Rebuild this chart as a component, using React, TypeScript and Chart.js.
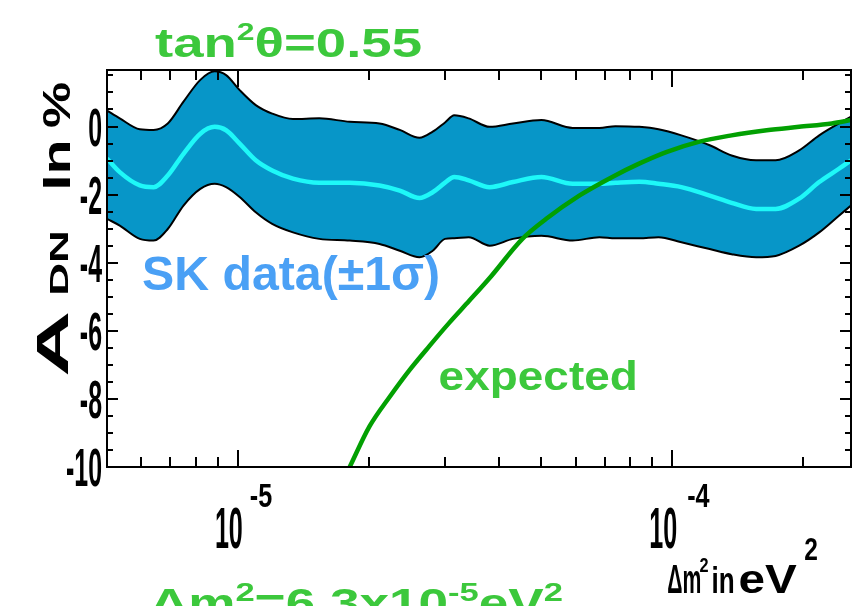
import React, { useEffect, useRef } from 'react';
import { Chart, registerables } from 'chart.js';

Chart.register(...registerables);

// Δm² grid (eV²) for the SK band
const dm2 = [5.0e-6, 5.35e-6, 5.95e-6, 6.4e-6, 6.9e-6, 7.5e-6, 8.2e-6, 8.85e-6, 9.4e-6, 1.01e-5, 1.1e-5, 1.2e-5, 1.34e-5, 1.54e-5, 1.81e-5, 2.12e-5, 2.36e-5, 2.62e-5, 2.81e-5, 3.0e-5, 3.15e-5, 3.4e-5, 3.8e-5, 4.3e-5, 5.0e-5, 5.9e-5, 6.8e-5, 7.4e-5, 8.4e-5, 9.3e-5, 1.05e-4, 1.22e-4, 1.37e-4, 1.56e-4, 1.73e-4, 1.96e-4, 2.18e-4, 2.42e-4, 2.58e-4];
const skUpper = [0.47, 0.24, -0.08, -0.10, 0.09, 0.73, 1.37, 1.62, 1.51, 1.07, 0.63, 0.38, 0.22, 0.24, 0.14, 0.09, -0.10, -0.33, -0.15, 0.12, 0.33, 0.24, -0.01, 0.09, 0.19, -0.04, -0.04, 0.01, -0.01, -0.08, -0.26, -0.55, -0.85, -0.99, -0.99, -0.70, -0.26, 0.09, 0.29];
const skCenter = [-0.94, -1.34, -1.73, -1.78, -1.44, -0.80, -0.21, -0.01, -0.11, -0.50, -0.99, -1.29, -1.53, -1.65, -1.65, -1.73, -1.88, -2.10, -1.93, -1.65, -1.48, -1.58, -1.78, -1.63, -1.48, -1.68, -1.68, -1.65, -1.62, -1.68, -1.78, -2.03, -2.24, -2.42, -2.42, -2.12, -1.63, -1.24, -0.99];
const skLower = [-2.71, -2.91, -3.30, -3.35, -3.01, -2.32, -1.83, -1.68, -1.78, -2.07, -2.52, -2.86, -3.11, -3.30, -3.35, -3.45, -3.65, -3.84, -3.65, -3.30, -3.28, -3.25, -3.50, -3.30, -3.21, -3.35, -3.25, -3.28, -3.28, -3.25, -3.40, -3.60, -3.75, -3.84, -3.80, -3.50, -3.11, -2.62, -2.32];

// expected curve
const expDm2 = [1.81e-5, 2.01e-5, 2.24e-5, 2.49e-5, 2.76e-5, 3.07e-5, 3.41e-5, 3.80e-5, 4.52e-5, 5.13e-5, 6.11e-5, 7.28e-5, 8.39e-5, 9.69e-5, 1.15e-4, 1.37e-4, 1.65e-4, 1.96e-4, 2.33e-4, 2.58e-4];
const expAdn = [-10, -8.81, -7.93, -7.14, -6.45, -5.76, -5.12, -4.45, -3.30, -2.71, -2.03, -1.48, -1.09, -0.75, -0.45, -0.26, -0.11, -0.01, 0.09, 0.19];

// axes
const xMin = 5e-6;
const xMax = 2.58e-4;
const yMin = -10;
const yMax = 1.66;
const xMajorTicks = [1e-5, 1e-4];
const xMajorExponents = ['-5', '-4'];
const xMinorTicks = [6e-6, 7e-6, 8e-6, 9e-6, 2e-5, 3e-5, 4e-5, 5e-5, 6e-5, 7e-5, 8e-5, 9e-5, 2e-4];
const yTickLabels = [0, -2, -4, -6, -8, -10];
const yMinorStep = 0.5;

const FONT = '"Liberation Sans", Arial, sans-serif';
const GREEN_TEXT = '#3cc83c';

function fitText(ctx: CanvasRenderingContext2D, text: string, x0: number, y0: number, w: number, h: number, color: string, rot = false) {
  ctx.save();
  ctx.font = `bold 100px ${FONT}`;
  ctx.textAlign = 'left';
  ctx.textBaseline = 'alphabetic';
  const m = ctx.measureText(text);
  const bl = m.actualBoundingBoxLeft;
  const ba = m.actualBoundingBoxAscent;
  const bw = m.actualBoundingBoxLeft + m.actualBoundingBoxRight;
  const bh = m.actualBoundingBoxAscent + m.actualBoundingBoxDescent;
  ctx.fillStyle = color;
  if (!rot) {
    ctx.translate(x0, y0);
    ctx.scale(w / bw, h / bh);
  } else {
    ctx.translate(x0, y0 + h);
    ctx.rotate(-Math.PI / 2);
    ctx.scale(h / bw, w / bh);
  }
  ctx.fillText(text, bl, ba);
  ctx.restore();
}

type Part = { t: string; size: number; rise: number };
function drawRun(ctx: CanvasRenderingContext2D, parts: Part[], x0: number, baseline: number, totalW: number, color: string) {
  ctx.save();
  ctx.textAlign = 'left';
  ctx.textBaseline = 'alphabetic';
  ctx.fillStyle = color;
  const widths = parts.map((p) => {
    ctx.font = `bold ${p.size}px ${FONT}`;
    return ctx.measureText(p.t).width;
  });
  const total = widths.reduce((a, b) => a + b, 0);
  const s = totalW / total;
  let x = x0;
  parts.forEach((p, i) => {
    ctx.save();
    ctx.font = `bold ${p.size}px ${FONT}`;
    ctx.translate(x, baseline - p.rise);
    ctx.scale(s, 1);
    ctx.fillText(p.t, 0, 0);
    ctx.restore();
    x += widths[i] * s;
  });
  ctx.restore();
}

const decorPlugin = {
  id: 'decor',
  afterDraw(chart: any) {
    const { ctx, chartArea: ca, scales } = chart;
    const xs = scales.x;
    const ys = scales.y;
    ctx.save();
    ctx.strokeStyle = '#000';
    ctx.lineWidth = 2;
    ctx.lineCap = 'butt';
    // frame
    ctx.strokeRect(ca.left, ca.top, ca.right - ca.left, ca.bottom - ca.top);
    // x ticks (bottom + top)
    const xTick = (v: number, len: number) => {
      const px = Math.round(xs.getPixelForValue(v));
      ctx.beginPath();
      ctx.moveTo(px, ca.bottom);
      ctx.lineTo(px, ca.bottom - len);
      ctx.moveTo(px, ca.top);
      ctx.lineTo(px, ca.top + len);
      ctx.stroke();
    };
    xMinorTicks.forEach((v) => xTick(v, 10));
    xMajorTicks.forEach((v) => xTick(v, 17));
    // y ticks (left + right)
    for (let v = yMin; v <= yMax + 1e-9; v += yMinorStep) {
      const py = Math.round(ys.getPixelForValue(v));
      const major = Math.abs(v % 2) < 1e-9;
      const len = major ? 11 : 6;
      ctx.beginPath();
      ctx.moveTo(ca.left, py);
      ctx.lineTo(ca.left + len, py);
      ctx.moveTo(ca.right, py);
      ctx.lineTo(ca.right - len, py);
      ctx.stroke();
    }
    // y tick labels (condensed bold)
    ctx.fillStyle = '#000';
    ctx.textAlign = 'right';
    ctx.textBaseline = 'alphabetic';
    yTickLabels.forEach((v) => {
      const py = ys.getPixelForValue(v);
      ctx.save();
      ctx.font = `bold 53px ${FONT}`;
      ctx.translate(ca.left - 5, py + 19);
      ctx.scale(0.47, 1);
      ctx.fillText(String(v), 0, 0);
      ctx.restore();
    });
    // x tick labels: 10 with exponent
    xMajorTicks.forEach((v, i) => {
      const px = xs.getPixelForValue(v);
      ctx.save();
      ctx.textAlign = 'right';
      ctx.font = `bold 57px ${FONT}`;
      ctx.translate(px + 5, 548);
      ctx.scale(0.44, 1);
      ctx.fillText('10', 0, 0);
      ctx.restore();
      ctx.save();
      ctx.textAlign = 'left';
      ctx.font = `bold 34px ${FONT}`;
      ctx.translate(px + 12 + i * 3, 507);
      ctx.scale(0.74, 1);
      ctx.fillText(xMajorExponents[i], 0, 0);
      ctx.restore();
    });
    // x axis title
    fitText(ctx, 'Δm', 668, 565, 32, 28, '#000');
    fitText(ctx, '2', 700, 558, 8, 14, '#000');
    fitText(ctx, 'in', 713, 566, 20, 27, '#000');
    fitText(ctx, 'eV', 740, 565, 57, 28, '#000');
    fitText(ctx, '2', 805, 538, 12, 22, '#000');
    // y axis title (rotated)
    fitText(ctx, 'A', 37, 313, 31, 62, '#000', true);
    fitText(ctx, 'DN', 50, 233, 18, 60, '#000', true);
    fitText(ctx, 'In', 43, 143, 27, 44, '#000', true);
    fitText(ctx, '%', 43, 83, 27, 44, '#000', true);
    // annotations
    drawRun(ctx, [
      { t: 'tan', size: 41, rise: 0 },
      { t: '2', size: 24, rise: 17 },
      { t: 'θ=0.55', size: 41, rise: 0 },
    ], 155, 57, 267, GREEN_TEXT);
    fitText(ctx, 'SK data(±1σ)', 143, 255, 295, 45, '#4aa0f5');
    fitText(ctx, 'expected', 440, 360, 195, 38, GREEN_TEXT);
    drawRun(ctx, [
      { t: 'Δm', size: 40, rise: 0 },
      { t: '2', size: 26, rise: 16 },
      { t: '=6.3x10', size: 40, rise: 0 },
      { t: '-5', size: 26, rise: 16 },
      { t: 'eV', size: 40, rise: 0 },
      { t: '2', size: 26, rise: 16 },
    ], 150, 617, 413, GREEN_TEXT);
    ctx.restore();
  },
};

export default function App() {
  const ref = useRef<HTMLCanvasElement | null>(null);
  useEffect(() => {
    if (!ref.current) return;
    const pts = (xa: number[], ya: number[]) => xa.map((x, i) => ({ x, y: ya[i] }));
    const chart = new Chart(ref.current, {
      type: 'line',
      data: {
        datasets: [
          {
            label: 'expected',
            data: pts(expDm2, expAdn),
            borderColor: '#02a002',
            borderWidth: 4.5,
            pointRadius: 0,
            fill: false,
            cubicInterpolationMode: 'monotone',
          },
          {
            label: 'SK central',
            data: pts(dm2, skCenter),
            borderColor: '#1ef8f8',
            borderWidth: 4.5,
            pointRadius: 0,
            fill: false,
            cubicInterpolationMode: 'monotone',
          },
          {
            label: 'SK +1σ',
            data: pts(dm2, skUpper),
            borderColor: '#000',
            borderWidth: 2,
            pointRadius: 0,
            backgroundColor: '#0796c8',
            fill: '+1',
            cubicInterpolationMode: 'monotone',
          },
          {
            label: 'SK -1σ',
            data: pts(dm2, skLower),
            borderColor: '#000',
            borderWidth: 2,
            pointRadius: 0,
            fill: false,
            cubicInterpolationMode: 'monotone',
          },
        ],
      },
      options: {
        animation: false,
        responsive: false,
        devicePixelRatio: 1,
        layout: { padding: { top: 70, right: 3, left: 0, bottom: 0 } },
        scales: {
          x: {
            type: 'logarithmic',
            min: xMin,
            max: xMax,
            ticks: { display: false },
            grid: { display: false },
            border: { display: false },
            afterFit: (s: any) => { s.height = 139; },
          },
          y: {
            type: 'linear',
            min: yMin,
            max: yMax,
            ticks: { display: false },
            grid: { display: false },
            border: { display: false },
            afterFit: (s: any) => { s.width = 107; },
          },
        },
        plugins: {
          legend: { display: false },
          tooltip: { enabled: false },
          filler: { propagate: false, drawTime: 'beforeDatasetsDraw' },
        },
      } as any,
      plugins: [decorPlugin],
    });
    return () => chart.destroy();
  }, []);
  return (
    <div style={{ position: 'fixed', left: 0, top: 0, width: 854, height: 606, background: '#fff' }}>
      <canvas ref={ref} width={854} height={606} style={{ display: 'block' }} />
    </div>
  );
}
